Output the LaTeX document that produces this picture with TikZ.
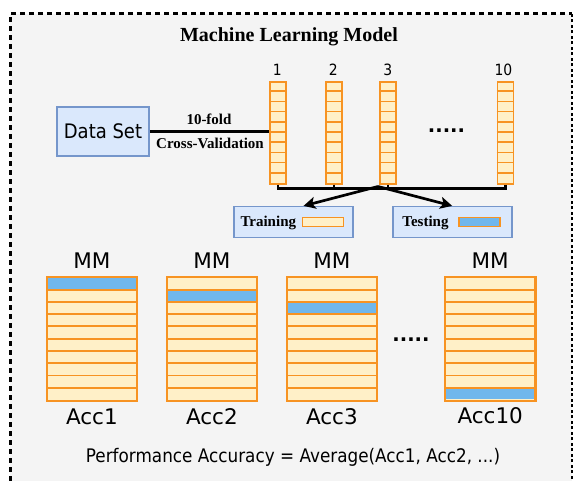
\documentclass[tikz,border=0pt]{standalone}
\usepackage{fontspec}
\setmainfont{Liberation Serif}
\newfontfamily\sansA{DejaVu Sans}
\newfontfamily\sansC[FakeStretch=0.9]{DejaVu Sans}
\usetikzlibrary{arrows.meta}

\definecolor{bg}{HTML}{F4F4F4}
\definecolor{cellfill}{HTML}{FFF0C8}
\definecolor{cellline}{HTML}{F79322}
\definecolor{testblue}{HTML}{70B7EC}
\definecolor{boxfill}{HTML}{DAE8FC}
\definecolor{boxline}{HTML}{7596CB}

\tikzset{
  conn/.style={line width=2.7pt, black},
  arr/.style={conn, -{Stealth[length=12pt,width=12pt,inset=3pt]}},
  setbox/.style={draw=boxline, fill=boxfill, line width=1.6pt, inner sep=0pt},
  foldcol/.style={draw=cellline, fill=cellfill, line width=1.6pt,
    minimum width=16pt, minimum height=102pt, inner sep=0pt},
  mmcol/.style={fill=cellfill, minimum width=90pt, minimum height=123pt, inner sep=0pt},
  bar/.style={draw=cellline, line width=1.5pt, minimum width=41pt,
    minimum height=9pt, inner sep=0pt},
  serifb/.style={font=\fontsize{15}{18}\selectfont\bfseries, inner sep=0pt},
  numlab/.style={font=\sansC\fontsize{15.5}{18}\selectfont, inner sep=0pt},
  mmlab/.style={font=\sansA\fontsize{21.5}{25}\selectfont, inner sep=0pt},
  dotslab/.style={font=\sansA\bfseries\fontsize{19.5}{22}\selectfont, inner sep=0pt},
}

% one fold of the data set: a thin column of ten cells
\newcommand\foldcolumn[2]{%
  \node[foldcol, anchor=north west] (#1) at (#2,81) {};
  \foreach \k in {1,...,9}
    \draw[cellline, line width=1.5pt] (#2,{81+\k*10.2}) -- ({#2+16},{81+\k*10.2});
}

% one trained model: ten rows, one of them held out for testing
\newcommand\mmblock[3]{%
  \node[mmcol, anchor=north west] (#1) at (#2,277.3) {};
  \fill[testblue] ({#2+1},{277.3+(#3-1)*12.27+1}) rectangle ({#2+89},{277.3+#3*12.27-1});
  \foreach \k in {1,...,9}
    \draw[cellline, line width=1.9pt] (#2,{277.3+\k*12.27}) -- ({#2+90},{277.3+\k*12.27});
  \draw[cellline, line width=2.2pt] (#1.north west) rectangle (#1.south east);
}

\begin{document}
\begin{tikzpicture}[x=1pt,y=-1pt]
\useasboundingbox (0,0) rectangle (574,481);

% frame
\fill[bg] (10,14) rectangle (572,481);
\draw[line width=3pt, dash pattern=on 5pt off 4pt] (10,490) -- (10,14) -- (572,14);
\draw[line width=1.5pt, dash pattern=on 3pt off 2.5pt] (572,14) -- (572,490);

% title
\node[font=\fontsize{20}{24}\selectfont\bfseries, anchor=base, inner sep=0pt]
  (title) at (289,41.7) {Machine Learning Model};

% data set and the split into folds
\node[setbox, minimum width=92pt, minimum height=49pt,
  font=\sansC\fontsize{20}{24}\selectfont] (data) at (103,131.5) {Data Set};

\foldcolumn{f1}{269.3}
\foldcolumn{f2}{325.3}
\foldcolumn{f3}{379.3}
\foldcolumn{f10}{496.7}

\node[numlab, anchor=base] (n1) at (277.3,76) {1};
\node[numlab, anchor=base] (n2) at (333.3,76) {2};
\node[numlab, anchor=base] (n3) at (387.8,76) {3};
\node[numlab, anchor=base] (n10) at (503.5,76) {10};

\node[dotslab, anchor=base] (dotsA) at (446.5,133) {.....};

\draw[conn] (data.east) -- (data.east -| f1.west);
\node[serifb, anchor=base] (fold) at (209,125) {10-fold};
\node[serifb, anchor=base] (cv) at (210,148.3) {Cross-Validation};

% collecting bus under the folds
\draw[conn] (f1.south) -- ++(0,3.8) -| (f10.south);
\draw[conn] (f2.south) -- ++(0,3.8);
\draw[conn] (f3.south) -- ++(0,3.8);
\coordinate (split) at (378,186.5);

% training / testing legend
\node[setbox, minimum width=119pt, minimum height=31pt] (train) at (293.5,222.2) {};
\node[setbox, minimum width=119pt, minimum height=31pt] (test) at (452.2,222.2) {};
\node[serifb, anchor=base] (traintxt) at (268.3,226.5) {Training};
\node[serifb, anchor=base] (testtxt) at (425.5,226.5) {Testing};
\node[bar, fill=cellfill] (trainbar) at (322.8,222.2) {};
\node[bar, fill=testblue] (testbar) at (479.7,222.2) {};

\draw[arr] (split) -- ([xshift=10pt]train.north);
\draw[arr] (split) -- (test.north);

% the ten models
\mmblock{m1}{46.7}{1}
\mmblock{m2}{166.7}{2}
\mmblock{m3}{286.7}{3}
\mmblock{m10}{445}{10}

\node[mmlab, anchor=base] (mm1) at (m1.north |- 0,268.3) {MM};
\node[mmlab, anchor=base] (mm2) at (m2.north |- 0,268.3) {MM};
\node[mmlab, anchor=base] (mm3) at (m3.north |- 0,268.3) {MM};
\node[mmlab, anchor=base] (mm10) at (m10.north |- 0,268.3) {MM};

\node[mmlab, anchor=base] (acc1) at (m1.south |- 0,425) {Acc1};
\node[mmlab, anchor=base] (acc2) at (m2.south |- 0,425) {Acc2};
\node[mmlab, anchor=base] (acc3) at (m3.south |- 0,425) {Acc3};
\node[mmlab, anchor=base] (acc10) at (m10.south |- 0,423.3) {Acc10};

\node[dotslab, anchor=base] (dotsB) at (411,342) {.....};

\node[font=\sansC\fontsize{18.7}{22}\selectfont, anchor=base, inner sep=0pt]
  (perf) at (293,463) {Performance Accuracy = Average(Acc1, Acc2, ...)};
\end{tikzpicture}
\end{document}
